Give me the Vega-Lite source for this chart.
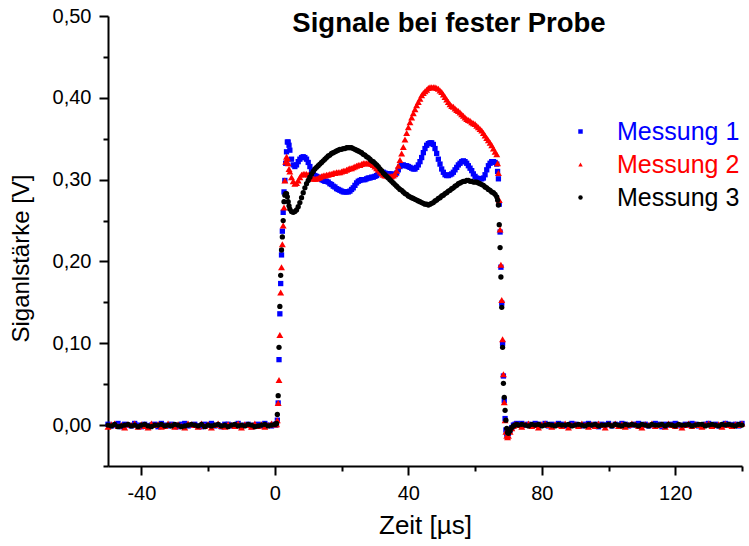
{
"$schema":"https://vega.github.io/schema/vega-lite/v6.json",
"autosize":{"type":"none"},
"padding":{"left":108,"top":16,"right":7,"bottom":80},
"width":634,"height":450,
"background":"white",
"config":{"view":{"stroke":null},"font":"Liberation Sans"},
"title":{"text":"Signale bei fester Probe","fontSize":27.5,"fontWeight":"bold","font":"Liberation Sans","color":"black","anchor":"middle","frame":"group","baseline":"alphabetic","offset":0,"dy":53,"dx":24},
"data":{"values":[
{"t":-50,"a":0.001,"b":-0.002,"c":0},
{"t":-49,"a":-0.001,"b":0.001,"c":-0.001},
{"t":-48,"a":0,"b":0.002,"c":0.001},
{"t":-47,"a":0.002,"b":-0.001,"c":-0.002},
{"t":-46,"a":-0.002,"b":0,"c":-0.001},
{"t":-45,"a":0.001,"b":-0.003,"c":0},
{"t":-44,"a":0,"b":0.001,"c":0.001},
{"t":-43,"a":-0.001,"b":0,"c":-0.001},
{"t":-42,"a":0.002,"b":0.002,"c":0},
{"t":-41,"a":0,"b":-0.002,"c":-0.002},
{"t":-40,"a":-0.002,"b":0.001,"c":0},
{"t":-39,"a":0.001,"b":-0.001,"c":0.001},
{"t":-38,"a":-0.001,"b":-0.003,"c":-0.001},
{"t":-37,"a":0,"b":0.002,"c":-0.002},
{"t":-36,"a":0.001,"b":0,"c":0},
{"t":-35,"a":-0.002,"b":0.001,"c":0},
{"t":-34,"a":0.002,"b":-0.002,"c":0.001},
{"t":-33,"a":0,"b":-0.001,"c":-0.001},
{"t":-32,"a":-0.001,"b":0.002,"c":0},
{"t":-31,"a":0.001,"b":0,"c":-0.001},
{"t":-30,"a":0,"b":-0.002,"c":0.001},
{"t":-29,"a":-0.002,"b":0.001,"c":0},
{"t":-28,"a":0.001,"b":-0.001,"c":-0.002},
{"t":-27,"a":0.002,"b":-0.003,"c":-0.001},
{"t":-26,"a":-0.001,"b":0.002,"c":0},
{"t":-25,"a":0,"b":0.001,"c":0.001},
{"t":-24,"a":0.001,"b":0,"c":0},
{"t":-23,"a":-0.001,"b":-0.002,"c":-0.001},
{"t":-22,"a":-0.002,"b":0.002,"c":0.001},
{"t":-21,"a":0.001,"b":-0.001,"c":-0.002},
{"t":-20,"a":0,"b":0.001,"c":0},
{"t":-19,"a":0.002,"b":-0.003,"c":-0.001},
{"t":-18,"a":-0.001,"b":0,"c":0},
{"t":-17,"a":0,"b":0.002,"c":0.001},
{"t":-16,"a":-0.002,"b":-0.001,"c":-0.001},
{"t":-15,"a":0.001,"b":-0.002,"c":0},
{"t":-14,"a":0.001,"b":0.001,"c":-0.002},
{"t":-13,"a":-0.001,"b":0,"c":0},
{"t":-12,"a":0,"b":-0.001,"c":0.001},
{"t":-11,"a":0.002,"b":0.002,"c":-0.001},
{"t":-10,"a":-0.001,"b":-0.003,"c":0},
{"t":-9,"a":0,"b":0.001,"c":-0.001},
{"t":-8,"a":0.001,"b":0,"c":0.001},
{"t":-7,"a":-0.002,"b":-0.002,"c":0},
{"t":-6,"a":0,"b":0.002,"c":-0.002},
{"t":-5,"a":0.001,"b":-0.001,"c":-0.001},
{"t":-4,"a":-0.001,"b":0.001,"c":0},
{"t":-3,"a":0.002,"b":-0.002,"c":0.001},
{"t":-2,"a":0,"b":0,"c":-0.001},
{"t":-1,"a":-0.001,"b":0.002,"c":0},
{"t":0,"a":0.001,"b":0.001,"c":0.001},
{"t":0.25,"a":0,"b":0.001,"c":0.001},
{"t":0.5,"a":0.001,"b":0.001,"c":0.002},
{"t":0.75,"a":0.006,"b":0.006,"c":0.013},
{"t":1,"a":0.027,"b":0.027,"c":0.036},
{"t":1.25,"a":0.08,"b":0.055,"c":0.095},
{"t":1.5,"a":0.136,"b":0.11,"c":0.145},
{"t":1.75,"a":0.173,"b":0.162,"c":0.183},
{"t":2,"a":0.208,"b":0.193,"c":0.214},
{"t":2.25,"a":0.237,"b":0.221,"c":0.23},
{"t":2.5,"a":0.26,"b":0.244,"c":0.25},
{"t":2.75,"a":0.285,"b":0.266,"c":0.273},
{"t":3,"a":0.299,"b":0.299,"c":0.281},
{"t":3.25,"a":0.32,"b":0.322,"c":0.283},
{"t":3.5,"a":0.334,"b":0.328,"c":0.283},
{"t":3.75,"a":0.346,"b":0.326,"c":0.279},
{"t":4,"a":0.346,"b":0.32,"c":0.273},
{"t":4.25,"a":0.342,"b":0.313,"c":0.268},
{"t":4.5,"a":0.336,"b":0.31,"c":0.264},
{"t":5,"a":0.325,"b":0.303,"c":0.261},
{"t":5.5,"a":0.318,"b":0.298,"c":0.26},
{"t":6,"a":0.316,"b":0.295,"c":0.261},
{"t":6.5,"a":0.318,"b":0.296,"c":0.263},
{"t":7,"a":0.322,"b":0.299,"c":0.267},
{"t":7.5,"a":0.325,"b":0.303,"c":0.272},
{"t":8,"a":0.327,"b":0.306,"c":0.278},
{"t":8.5,"a":0.328,"b":0.307,"c":0.284},
{"t":9,"a":0.327,"b":0.307,"c":0.29},
{"t":9.5,"a":0.325,"b":0.307,"c":0.295},
{"t":10,"a":0.321,"b":0.306,"c":0.299},
{"t":10.5,"a":0.316,"b":0.304,"c":0.303},
{"t":11,"a":0.311,"b":0.302,"c":0.307},
{"t":11.5,"a":0.307,"b":0.301,"c":0.31},
{"t":12,"a":0.305,"b":0.301,"c":0.313},
{"t":12.5,"a":0.304,"b":0.301,"c":0.315},
{"t":13,"a":0.303,"b":0.302,"c":0.317},
{"t":13.5,"a":0.302,"b":0.303,"c":0.319},
{"t":14,"a":0.3,"b":0.304,"c":0.321},
{"t":14.5,"a":0.299,"b":0.305,"c":0.323},
{"t":15,"a":0.298,"b":0.305,"c":0.325},
{"t":15.5,"a":0.298,"b":0.306,"c":0.327},
{"t":16,"a":0.297,"b":0.306,"c":0.329},
{"t":16.5,"a":0.295,"b":0.307,"c":0.33},
{"t":17,"a":0.294,"b":0.307,"c":0.332},
{"t":17.5,"a":0.292,"b":0.308,"c":0.333},
{"t":18,"a":0.291,"b":0.308,"c":0.334},
{"t":18.5,"a":0.289,"b":0.309,"c":0.335},
{"t":19,"a":0.288,"b":0.309,"c":0.336},
{"t":19.5,"a":0.287,"b":0.309,"c":0.337},
{"t":20,"a":0.286,"b":0.31,"c":0.337},
{"t":20.5,"a":0.285,"b":0.311,"c":0.338},
{"t":21,"a":0.285,"b":0.311,"c":0.338},
{"t":21.5,"a":0.285,"b":0.312,"c":0.339},
{"t":22,"a":0.285,"b":0.313,"c":0.339},
{"t":22.5,"a":0.286,"b":0.314,"c":0.339},
{"t":23,"a":0.288,"b":0.314,"c":0.339},
{"t":23.5,"a":0.29,"b":0.315,"c":0.338},
{"t":24,"a":0.293,"b":0.316,"c":0.337},
{"t":24.5,"a":0.296,"b":0.317,"c":0.336},
{"t":25,"a":0.298,"b":0.318,"c":0.335},
{"t":25.5,"a":0.299,"b":0.318,"c":0.334},
{"t":26,"a":0.3,"b":0.319,"c":0.333},
{"t":26.5,"a":0.3,"b":0.32,"c":0.331},
{"t":27,"a":0.3,"b":0.32,"c":0.33},
{"t":27.5,"a":0.301,"b":0.32,"c":0.328},
{"t":28,"a":0.302,"b":0.32,"c":0.327},
{"t":28.5,"a":0.302,"b":0.32,"c":0.325},
{"t":29,"a":0.303,"b":0.319,"c":0.323},
{"t":29.5,"a":0.303,"b":0.318,"c":0.322},
{"t":30,"a":0.304,"b":0.316,"c":0.32},
{"t":30.5,"a":0.305,"b":0.314,"c":0.318},
{"t":31,"a":0.307,"b":0.312,"c":0.316},
{"t":31.5,"a":0.308,"b":0.31,"c":0.313},
{"t":32,"a":0.309,"b":0.308,"c":0.311},
{"t":32.5,"a":0.309,"b":0.306,"c":0.308},
{"t":33,"a":0.308,"b":0.305,"c":0.306},
{"t":33.5,"a":0.307,"b":0.305,"c":0.304},
{"t":34,"a":0.307,"b":0.304,"c":0.302},
{"t":34.5,"a":0.307,"b":0.304,"c":0.3},
{"t":35,"a":0.307,"b":0.304,"c":0.298},
{"t":35.5,"a":0.306,"b":0.305,"c":0.296},
{"t":36,"a":0.306,"b":0.307,"c":0.294},
{"t":36.5,"a":0.308,"b":0.311,"c":0.292},
{"t":37,"a":0.312,"b":0.317,"c":0.29},
{"t":37.5,"a":0.316,"b":0.324,"c":0.288},
{"t":38,"a":0.318,"b":0.332,"c":0.287},
{"t":38.5,"a":0.318,"b":0.34,"c":0.285},
{"t":39,"a":0.317,"b":0.349,"c":0.283},
{"t":39.5,"a":0.317,"b":0.357,"c":0.282},
{"t":40,"a":0.316,"b":0.364,"c":0.28},
{"t":40.5,"a":0.315,"b":0.37,"c":0.279},
{"t":41,"a":0.314,"b":0.376,"c":0.278},
{"t":41.5,"a":0.313,"b":0.381,"c":0.277},
{"t":42,"a":0.313,"b":0.386,"c":0.276},
{"t":42.5,"a":0.315,"b":0.391,"c":0.275},
{"t":43,"a":0.318,"b":0.395,"c":0.274},
{"t":43.5,"a":0.322,"b":0.399,"c":0.273},
{"t":44,"a":0.327,"b":0.403,"c":0.272},
{"t":44.5,"a":0.333,"b":0.406,"c":0.271},
{"t":45,"a":0.338,"b":0.408,"c":0.27},
{"t":45.5,"a":0.342,"b":0.41,"c":0.27},
{"t":46,"a":0.344,"b":0.412,"c":0.269},
{"t":46.5,"a":0.345,"b":0.413,"c":0.27},
{"t":47,"a":0.345,"b":0.413,"c":0.271},
{"t":47.5,"a":0.343,"b":0.413,"c":0.272},
{"t":48,"a":0.338,"b":0.413,"c":0.274},
{"t":48.5,"a":0.332,"b":0.412,"c":0.275},
{"t":49,"a":0.325,"b":0.411,"c":0.277},
{"t":49.5,"a":0.319,"b":0.409,"c":0.278},
{"t":50,"a":0.313,"b":0.407,"c":0.28},
{"t":50.5,"a":0.309,"b":0.404,"c":0.281},
{"t":51,"a":0.306,"b":0.401,"c":0.283},
{"t":51.5,"a":0.305,"b":0.398,"c":0.284},
{"t":52,"a":0.305,"b":0.395,"c":0.286},
{"t":52.5,"a":0.306,"b":0.392,"c":0.287},
{"t":53,"a":0.307,"b":0.39,"c":0.289},
{"t":53.5,"a":0.309,"b":0.389,"c":0.29},
{"t":54,"a":0.312,"b":0.387,"c":0.292},
{"t":54.5,"a":0.315,"b":0.385,"c":0.293},
{"t":55,"a":0.318,"b":0.384,"c":0.295},
{"t":55.5,"a":0.32,"b":0.382,"c":0.296},
{"t":56,"a":0.322,"b":0.38,"c":0.297},
{"t":56.5,"a":0.323,"b":0.378,"c":0.298},
{"t":57,"a":0.322,"b":0.376,"c":0.298},
{"t":57.5,"a":0.32,"b":0.374,"c":0.299},
{"t":58,"a":0.317,"b":0.373,"c":0.299},
{"t":58.5,"a":0.314,"b":0.372,"c":0.298},
{"t":59,"a":0.311,"b":0.37,"c":0.298},
{"t":59.5,"a":0.307,"b":0.369,"c":0.297},
{"t":60,"a":0.304,"b":0.368,"c":0.297},
{"t":60.5,"a":0.302,"b":0.366,"c":0.297},
{"t":61,"a":0.301,"b":0.364,"c":0.296},
{"t":61.5,"a":0.301,"b":0.362,"c":0.295},
{"t":62,"a":0.301,"b":0.36,"c":0.294},
{"t":62.5,"a":0.302,"b":0.357,"c":0.293},
{"t":63,"a":0.306,"b":0.354,"c":0.291},
{"t":63.5,"a":0.312,"b":0.351,"c":0.29},
{"t":64,"a":0.317,"b":0.348,"c":0.288},
{"t":64.5,"a":0.32,"b":0.345,"c":0.287},
{"t":65,"a":0.322,"b":0.342,"c":0.285},
{"t":65.5,"a":0.322,"b":0.338,"c":0.284},
{"t":66,"a":0.321,"b":0.334,"c":0.282},
{"t":66.5,"a":0.319,"b":0.331,"c":0.279},
{"t":66.75,"a":0.31,"b":0.32,"c":0.275},
{"t":67,"a":0.301,"b":0.308,"c":0.269},
{"t":67.25,"a":0.27,"b":0.275,"c":0.245},
{"t":67.5,"a":0.236,"b":0.239,"c":0.217},
{"t":67.75,"a":0.193,"b":0.196,"c":0.181},
{"t":68,"a":0.149,"b":0.153,"c":0.144},
{"t":68.25,"a":0.1,"b":0.105,"c":0.095},
{"t":68.5,"a":0.06,"b":0.062,"c":0.051},
{"t":68.75,"a":0.03,"b":0.028,"c":0.034},
{"t":69,"a":0.008,"b":0.006,"c":0.018},
{"t":69.25,"a":-0.006,"b":-0.008,"c":0.006},
{"t":69.5,"a":-0.011,"b":-0.013,"c":-0.004},
{"t":69.75,"a":-0.012,"b":-0.015,"c":-0.009},
{"t":70,"a":-0.01,"b":-0.013,"c":-0.01},
{"t":70.5,"a":-0.006,"b":-0.008,"c":-0.007},
{"t":71,"a":-0.003,"b":-0.004,"c":-0.003},
{"t":71.5,"a":0,"b":-0.001,"c":-0.001},
{"t":72,"a":0.001,"b":0.001,"c":0},
{"t":72.5,"a":0.002,"b":0,"c":0.001},
{"t":73,"a":0.001,"b":0,"c":0},
{"t":74,"a":0.002,"b":-0.002,"c":0.001},
{"t":75,"a":0,"b":0.001,"c":0},
{"t":76,"a":0.001,"b":0.002,"c":-0.001},
{"t":77,"a":-0.001,"b":-0.001,"c":0.001},
{"t":78,"a":0.002,"b":0,"c":0},
{"t":79,"a":0.001,"b":-0.003,"c":0.001},
{"t":80,"a":0,"b":0.001,"c":-0.001},
{"t":81,"a":0.002,"b":0.002,"c":0},
{"t":82,"a":-0.001,"b":0,"c":0.001},
{"t":83,"a":0.001,"b":-0.002,"c":0},
{"t":84,"a":0,"b":0.001,"c":-0.001},
{"t":85,"a":0.002,"b":0,"c":0.001},
{"t":86,"a":0.001,"b":-0.001,"c":0},
{"t":87,"a":-0.001,"b":0.002,"c":0},
{"t":88,"a":0,"b":-0.003,"c":0.001},
{"t":89,"a":0.002,"b":0,"c":-0.001},
{"t":90,"a":0.001,"b":0.001,"c":0},
{"t":91,"a":0,"b":-0.001,"c":0.001},
{"t":92,"a":-0.001,"b":0.002,"c":0},
{"t":93,"a":0.001,"b":0,"c":-0.001},
{"t":94,"a":0.002,"b":-0.002,"c":0.001},
{"t":95,"a":0,"b":0.001,"c":0},
{"t":96,"a":0.001,"b":-0.001,"c":0.001},
{"t":97,"a":-0.002,"b":0.002,"c":-0.001},
{"t":98,"a":0.001,"b":0,"c":0},
{"t":99,"a":0,"b":-0.003,"c":0},
{"t":100,"a":0.002,"b":0.001,"c":0.001},
{"t":101,"a":-0.001,"b":0,"c":-0.001},
{"t":102,"a":0.001,"b":0.002,"c":0.001},
{"t":103,"a":0,"b":-0.001,"c":0},
{"t":104,"a":0.002,"b":0.001,"c":-0.001},
{"t":105,"a":0.001,"b":-0.002,"c":0.001},
{"t":106,"a":-0.001,"b":0,"c":0},
{"t":107,"a":0,"b":0.002,"c":0.001},
{"t":108,"a":0.001,"b":0.001,"c":0},
{"t":109,"a":0.002,"b":-0.001,"c":-0.001},
{"t":110,"a":0,"b":-0.003,"c":0.001},
{"t":111,"a":0.001,"b":0.001,"c":0},
{"t":112,"a":-0.001,"b":0,"c":-0.001},
{"t":113,"a":0,"b":0.002,"c":0.001},
{"t":114,"a":0.002,"b":-0.001,"c":0},
{"t":115,"a":0.001,"b":0,"c":0},
{"t":116,"a":-0.002,"b":0.001,"c":0.001},
{"t":117,"a":0.001,"b":-0.002,"c":-0.001},
{"t":118,"a":0,"b":0.002,"c":0.001},
{"t":119,"a":0.001,"b":0,"c":0},
{"t":120,"a":0.002,"b":-0.001,"c":-0.001},
{"t":121,"a":0,"b":0.001,"c":0.001},
{"t":122,"a":-0.001,"b":-0.003,"c":0},
{"t":123,"a":0.001,"b":0,"c":0},
{"t":124,"a":0,"b":0.002,"c":0.001},
{"t":125,"a":0.002,"b":-0.001,"c":-0.001},
{"t":126,"a":0.001,"b":0.001,"c":0},
{"t":127,"a":-0.001,"b":0,"c":0.001},
{"t":128,"a":0,"b":-0.002,"c":0.001},
{"t":129,"a":0.001,"b":0.001,"c":-0.001},
{"t":130,"a":0.002,"b":0.002,"c":0},
{"t":131,"a":0,"b":-0.001,"c":0.001},
{"t":132,"a":0.001,"b":0,"c":0},
{"t":133,"a":-0.001,"b":0.001,"c":-0.001},
{"t":134,"a":0,"b":-0.002,"c":0.001},
{"t":135,"a":0.002,"b":0.002,"c":0},
{"t":136,"a":0.001,"b":0,"c":0.001},
{"t":137,"a":0,"b":-0.001,"c":0},
{"t":138,"a":0.001,"b":0.001,"c":-0.001},
{"t":139,"a":-0.001,"b":0,"c":0.001},
{"t":140,"a":0.002,"b":0.002,"c":0}
]},
"transform":[{"fold":["a","b","c"],"as":["k","v"]}],
"mark":{"type":"point","filled":true,"opacity":1},
"encoding":{
"x":{"field":"t","type":"quantitative","scale":{"domain":[-50,140],"nice":false,"zero":false},
 "axis":{"values":[-40,-20,0,20,40,60,80,100,120,140],"labelExpr":"datum.value % 40 == 0 ? '' + datum.value : ''","tickSize":{"condition":{"test":"datum.value % 40 == 0","value":9},"value":5},"tickWidth":2,"tickColor":"black","domainColor":"black","domainWidth":2,"labelFontSize":20,"labelColor":"black","labelPadding":8,"labelFlush":false,"labelOverlap":false,"grid":false,"title":"Zeit [µs]","titleFontSize":26,"titleFontWeight":"normal","titleColor":"black","titlePadding":9}},
"y":{"field":"v","type":"quantitative","scale":{"domain":[-0.05,0.5],"nice":false,"zero":false},
 "axis":{"values":[-0.05,0,0.05,0.1,0.15,0.2,0.25,0.3,0.35,0.4,0.45,0.5],"labelExpr":"abs(round(datum.value*20)) % 2 == 0 ? replace(format(datum.value,'.2f'),'.',',') : ''","tickSize":{"condition":{"test":"abs(round(datum.value*20)) % 2 == 0","value":9},"value":5},"tickWidth":2,"tickColor":"black","domainColor":"black","domainWidth":2,"labelFontSize":20,"labelColor":"black","labelPadding":8,"labelFlush":false,"labelOverlap":false,"grid":false,"title":"Siganlstärke [V]","titleFontSize":24,"titleFontWeight":"normal","titleColor":"black","titleX":-75,"titleY":242}},
"size":{"condition":{"test":"datum.k == 'b'","value":48},"value":28},
"color":{"field":"k","type":"nominal","scale":{"domain":["a","b","c"],"range":["#0000ff","#ff0000","#000000"]},
 "legend":{"title":null,"orient":"none","legendX":460,"legendY":103,"labelFontSize":25,"labelFont":"Liberation Sans","labelOffset":24,"rowPadding":7,"symbolSize":20,"padding":0,"labelExpr":"datum.label == 'a' ? 'Messung 1' : datum.label == 'b' ? 'Messung 2' : 'Messung 3'","labelColor":{"expr":"datum.value == 'a' ? '#0000ff' : datum.value == 'b' ? '#ff0000' : '#000000'"}}},
"shape":{"field":"k","type":"nominal","scale":{"domain":["a","b","c"],"range":["square","triangle-up","circle"]},
 "legend":{"title":null,"orient":"none","legendX":460,"legendY":103,"labelFontSize":25,"labelFont":"Liberation Sans","labelOffset":24,"rowPadding":7,"symbolSize":20,"padding":0,"labelExpr":"datum.label == 'a' ? 'Messung 1' : datum.label == 'b' ? 'Messung 2' : 'Messung 3'","labelColor":{"expr":"datum.value == 'a' ? '#0000ff' : datum.value == 'b' ? '#ff0000' : '#000000'"}}},
"order":{"field":"k"}
}
}
